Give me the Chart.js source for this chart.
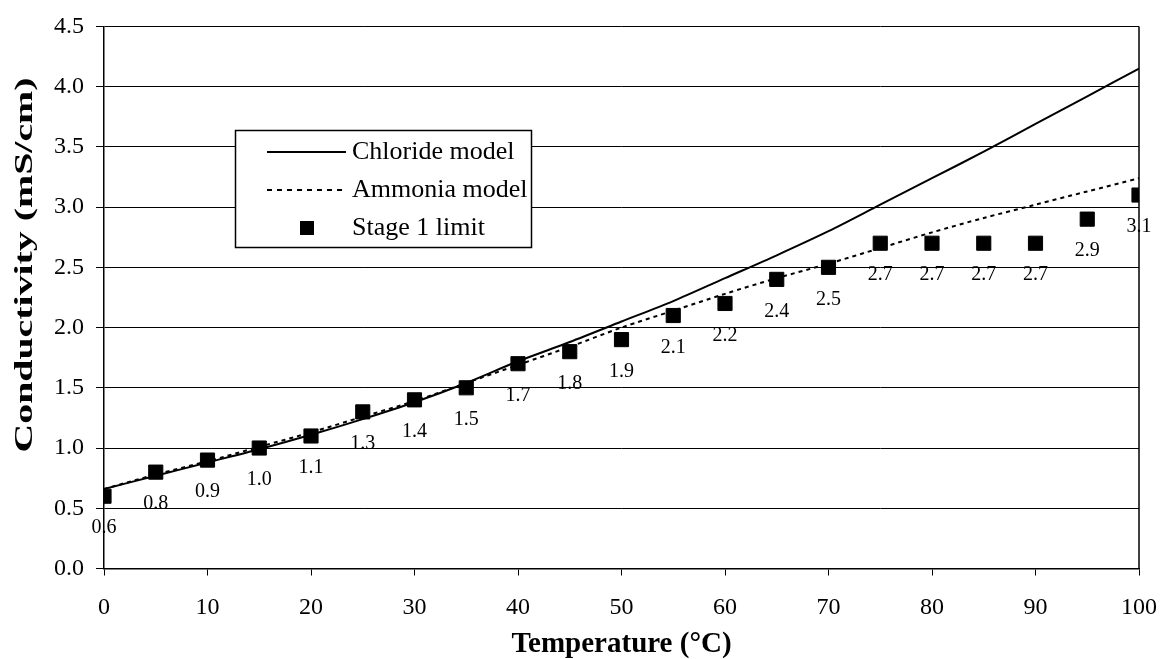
<!DOCTYPE html>
<html>
<head>
<meta charset="utf-8">
<script src="https://cdn.jsdelivr.net/npm/chart.js@4"></script>
<style>
  body { margin: 0; background: #fff; }
</style>
</head>
<body>
<canvas id="chart" width="1163" height="659"></canvas>
<script>
// temperatures (°C)
let temps = [0, 5, 10, 15, 20, 25, 30, 35, 40, 45, 50, 55, 60, 65, 70, 75, 80, 85, 90, 95, 100];
// model curves
let chloride = [0.66, 0.77, 0.88, 0.99, 1.11, 1.24, 1.38, 1.54, 1.72, 1.88, 2.05, 2.22, 2.41, 2.60, 2.80, 3.02, 3.24, 3.46, 3.69, 3.92, 4.15];
let ammonia = [0.66, 0.78, 0.89, 1.01, 1.13, 1.26, 1.39, 1.54, 1.69, 1.84, 2.00, 2.14, 2.28, 2.41, 2.53, 2.66, 2.79, 2.91, 3.02, 3.13, 3.24];
let stage1 = [0.6, 0.8, 0.9, 1.0, 1.1, 1.3, 1.4, 1.5, 1.7, 1.8, 1.9, 2.1, 2.2, 2.4, 2.5, 2.7, 2.7, 2.7, 2.7, 2.9, 3.1];
let seriesNames = ['Chloride model', 'Ammonia model', 'Stage 1 limit'];

const serif = '"Times New Roman", "Liberation Serif", serif';

function pts(vals) {
    return temps.map((t, i) => ({ x: t, y: vals[i] }));
}

// border, labels, legend and titles
const extras = {
    id: 'extras',
    afterDraw(chart) {
        const ctx = chart.ctx;
        const a = chart.chartArea;
        const xs = chart.scales.x;
        const ys = chart.scales.y;
        ctx.save();

        // right edge of plot
        ctx.strokeStyle = '#000';
        ctx.lineWidth = 1.5;
        ctx.beginPath();
        ctx.moveTo(a.right, a.top);
        ctx.lineTo(a.right, a.bottom);
        ctx.stroke();

        // data labels under the markers
        ctx.fillStyle = '#000';
        ctx.font = '20px ' + serif;
        ctx.textAlign = 'center';
        ctx.textBaseline = 'middle';
        stage1.forEach((v, i) => {
            ctx.fillText(v.toFixed(1), xs.getPixelForValue(temps[i]), ys.getPixelForValue(v) + 32);
        });

        // legend
        ctx.fillStyle = '#fff';
        ctx.fillRect(235.5, 130.5, 296, 117);
        ctx.lineWidth = 1.5;
        ctx.strokeRect(235.5, 130.5, 296, 117);
        ctx.fillStyle = '#000';
        ctx.lineWidth = 2;
        ctx.beginPath();
        ctx.moveTo(267, 152);
        ctx.lineTo(346, 152);
        ctx.stroke();
        ctx.setLineDash([5, 5]);
        ctx.beginPath();
        ctx.moveTo(267, 190);
        ctx.lineTo(346, 190);
        ctx.stroke();
        ctx.setLineDash([]);
        ctx.fillRect(300, 221, 14, 14);
        ctx.font = '26px ' + serif;
        ctx.textAlign = 'left';
        ctx.textBaseline = 'middle';
        ctx.fillText(seriesNames[0], 352, 152);
        ctx.fillText(seriesNames[1], 352, 190);
        ctx.fillText(seriesNames[2], 352, 228);

        // x title
        ctx.font = 'bold 29px ' + serif;
        ctx.textAlign = 'center';
        ctx.textBaseline = 'alphabetic';
        ctx.fillText('Temperature (°C)', (a.left + a.right) / 2, 652);

        // y title (stretched along its length like the original)
        ctx.font = 'bold 26px ' + serif;
        let label = 'Conductivity (mS/cm)';
        let w = ctx.measureText(label).width;
        ctx.translate(25, 265);
        ctx.rotate(-Math.PI / 2);
        ctx.scale(375 / w, 1);
        ctx.textBaseline = 'middle';
        ctx.fillText(label, 0, 0);
        ctx.restore();
    }
};

const ctx = document.getElementById('chart').getContext('2d');
const chart = new Chart(ctx, {
    type: 'line',
    data: {
        datasets: [{
            label: seriesNames[0],
            data: pts(chloride),
            borderColor: '#000',
            borderWidth: 2,
            pointRadius: 0,
            tension: 0.3,
            order: 2
        }, {
            label: seriesNames[1],
            data: pts(ammonia),
            borderColor: '#000',
            borderWidth: 2,
            borderDash: [4, 4],
            pointRadius: 0,
            tension: 0.3,
            order: 3
        }, {
            label: seriesNames[2],
            data: pts(stage1),
            showLine: false,
            pointStyle: 'rect',
            pointRadius: 10,
            pointBackgroundColor: '#000',
            pointBorderColor: '#000',
            order: 1
        }]
    },
    options: {
        responsive: false,
        animation: false,
        layout: {
            padding: { left: 0, right: 24, top: 23, bottom: 0 }
        },
        plugins: {
            legend: { display: false },
            tooltip: { enabled: false }
        },
        scales: {
            x: {
                type: 'linear',
                min: 0,
                max: 100,
                afterFit: (s) => {
                    s.height = 90.5;
                    s.paddingLeft = 0;
                    s.paddingRight = 18;
                },
                ticks: {
                    stepSize: 10,
                    color: '#000',
                    padding: 18,
                    font: { family: serif, size: 24 }
                },
                grid: {
                    drawOnChartArea: false,
                    drawTicks: true,
                    tickLength: 7,
                    color: '#000'
                },
                border: { display: true, color: '#000', width: 1.5 }
            },
            y: {
                min: 0,
                max: 4.5,
                afterFit: (s) => { s.width = 104; },
                ticks: {
                    stepSize: 0.5,
                    color: '#000',
                    padding: 12,
                    font: { family: serif, size: 24 },
                    callback: (v) => v.toFixed(1)
                },
                grid: {
                    color: '#000',
                    lineWidth: 1,
                    tickLength: 8
                },
                border: { display: true, color: '#000', width: 1.5 }
            }
        }
    },
    plugins: [extras]
});
</script>
</body>
</html>
